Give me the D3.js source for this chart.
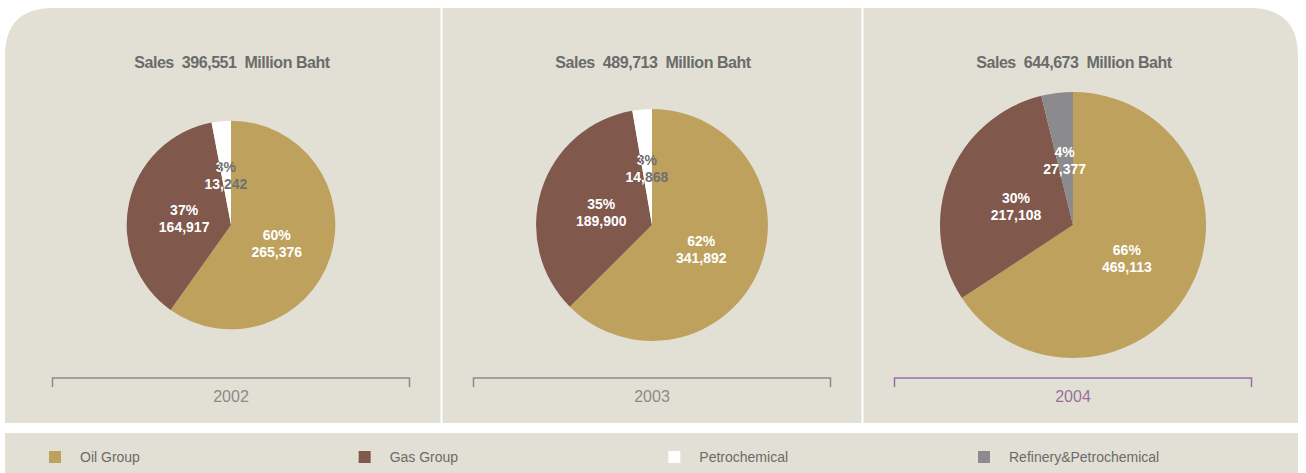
<!DOCTYPE html>
<html>
<head>
<meta charset="utf-8">
<script src="https://cdn.jsdelivr.net/npm/d3@7"></script>
<style>
  body { margin: 0; background: #ffffff; }
  svg { display: block; }
</style>
</head>
<body>
<svg id="chart" width="1306" height="473"></svg>
<script>
// Sales by business group, million Baht
const years = ["2002", "2003", "2004"];
const totalSales = [396551, 489713, 644673];
const groups = ["Oil Group", "Gas Group", "Petrochemical", "Refinery&Petrochemical"];
const oilSales = [265376, 341892, 469113];
const gasSales = [164917, 189900, 217108];
const petroSales = [13242, 14868, 0];
const refinerySales = [0, 0, 27377];
// share labels as published
const oilPct = ["60%", "62%", "66%"];
const gasPct = ["37%", "35%", "30%"];
const petroPct = ["3%", "3%", ""];
const refineryPct = ["", "", "4%"];

const groupColors = ["#bea15c", "#80584c", "#ffffff", "#8b8b8d"];
const panelFill = "#e2e0d4";
const textGray = "#6b6b6b";

const svg = d3.select("#chart");

// background panels
const panelTop = 8, panelBottom = 423, panelLeft = 5, panelRight = 1298, rad = 48;
svg.append("path")
  .attr("d", `M${panelLeft},${panelBottom} L${panelLeft},${panelTop + rad}
    Q${panelLeft},${panelTop} ${panelLeft + rad},${panelTop}
    L${panelRight - rad},${panelTop}
    Q${panelRight},${panelTop} ${panelRight},${panelTop + rad}
    L${panelRight},${panelBottom} Z`)
  .attr("fill", panelFill);

svg.append("rect")
  .attr("x", panelLeft).attr("y", 433)
  .attr("width", panelRight - panelLeft).attr("height", 40)
  .attr("fill", panelFill);

const x = d3.scalePoint().domain(years).range([231, 1073]);
const r = d3.scaleSqrt().domain([0, d3.max(totalSales)]).range([0, 133]);
const cy = 225;

// white column dividers
const step = x.step();
years.slice(1).forEach(y => {
  svg.append("line")
    .attr("x1", x(y) - step / 2).attr("x2", x(y) - step / 2)
    .attr("y1", panelTop).attr("y2", panelBottom)
    .attr("stroke", "#ffffff").attr("stroke-width", 2);
});

const pie = d3.pie().sort(null).value(d => d.value);
const defs = svg.append("defs");

years.forEach((year, i) => {
  const cx = x(year);
  const radius = r(totalSales[i]);
  const rows = [
    { g: 0, value: oilSales[i], pct: oilPct[i] },
    { g: 1, value: gasSales[i], pct: gasPct[i] },
    { g: 2, value: petroSales[i], pct: petroPct[i] },
    { g: 3, value: refinerySales[i], pct: refineryPct[i] }
  ].filter(d => d.value > 0);
  const sum = d3.sum(rows, d => d.value);

  // title
  svg.append("text")
    .attr("x", cx + 1).attr("y", 68)
    .attr("text-anchor", "middle")
    .attr("font-family", "'Liberation Sans', Arial, sans-serif")
    .attr("font-weight", "bold")
    .attr("font-size", 16)
    .attr("letter-spacing", -0.45)
    .attr("fill", textGray)
    .style("white-space", "pre")
    .text(`Sales  ${d3.format(",")(totalSales[i])}  Million Baht`);

  const g = svg.append("g").attr("transform", `translate(${cx},${cy})`);
  const arcs = pie(rows);
  const arc = d3.arc().innerRadius(0).outerRadius(radius);

  g.selectAll("path.slice").data(arcs).join("path")
    .attr("class", "slice")
    .attr("d", arc)
    .attr("fill", d => groupColors[d.data.g]);

  // clip paths per slice for label colouring over neighbouring slices
  arcs.forEach(d => {
    defs.append("clipPath").attr("id", `clip-${year}-${d.data.g}`)
      .append("path").attr("d", arc(d));
  });

  arcs.forEach((d, k) => {
    const share = d.data.value / sum;
    const kr = share < 0.1 ? 0.52 : 0.46;
    const lab = d3.arc().innerRadius(radius * kr).outerRadius(radius * kr);
    const [lx, ly] = lab.centroid(d);
    const light = groupColors[d.data.g] === "#ffffff";

    const drawLabel = (parent, color) => {
      const t = parent.append("text")
        .attr("text-anchor", "middle")
        .attr("font-family", "'Liberation Sans', Arial, sans-serif")
        .attr("font-weight", "bold")
        .attr("font-size", 14)
        .attr("fill", color);
      t.append("tspan").attr("x", lx).attr("y", ly + 0.5).text(d.data.pct);
      t.append("tspan").attr("x", lx).attr("y", ly + 17.5).text(d3.format(",")(d.data.value));
    };

    if (light) {
      drawLabel(g, "#707070");
      // part of the label lying over the preceding (darker) slice is drawn white
      const prev = arcs[k - 1];
      const clipped = g.append("g").attr("clip-path", `url(#clip-${year}-${prev.data.g})`);
      drawLabel(clipped, "#ffffff");
    } else {
      drawLabel(g, "#ffffff");
    }
  });

  // year bracket
  const half = 178.5;
  const bracketColor = i === years.length - 1 ? "#9a6fa0" : "#8a8a8a";
  svg.append("path")
    .attr("d", `M${cx - half},387 L${cx - half},378 L${cx + half},378 L${cx + half},387`)
    .attr("fill", "none")
    .attr("stroke", bracketColor)
    .attr("stroke-width", 1.5);
  svg.append("text")
    .attr("x", cx).attr("y", 402)
    .attr("text-anchor", "middle")
    .attr("font-family", "'Liberation Sans', Arial, sans-serif")
    .attr("font-size", 16)
    .attr("fill", bracketColor)
    .text(year);
});

// legend
const lx = d3.scalePoint().domain(groups).range([49, 978]);
const legend = svg.selectAll("g.legend").data(groups).join("g")
  .attr("class", "legend")
  .attr("transform", d => `translate(${lx(d)},451)`);
legend.append("rect")
  .attr("width", 12).attr("height", 12)
  .attr("fill", (d, k) => groupColors[k]);
legend.append("text")
  .attr("x", 31).attr("y", 10.5)
  .attr("font-family", "'Liberation Sans', Arial, sans-serif")
  .attr("font-size", 14)
  .attr("fill", textGray)
  .text(d => d);
</script>
</body>
</html>
